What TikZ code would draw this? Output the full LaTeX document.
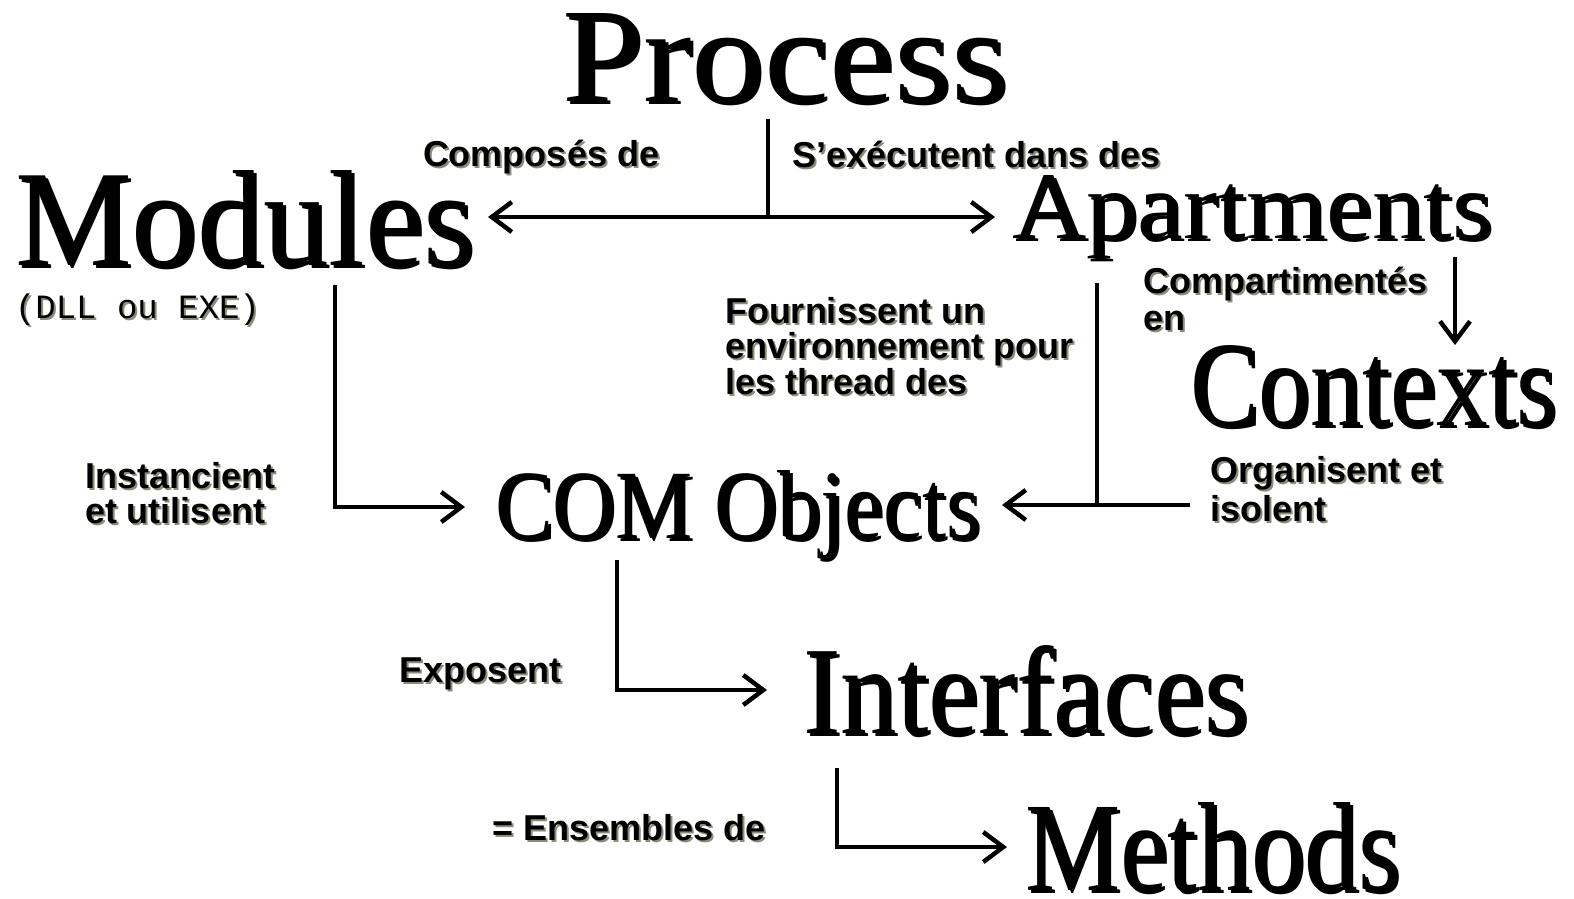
\documentclass[tikz,border=0pt]{standalone}
\usepackage{graphicx}
\usepackage{fontspec}
\setmainfont{Liberation Serif}
\setsansfont{Liberation Sans}
\setmonofont{Liberation Mono}
\usetikzlibrary{arrows.meta}
\definecolor{shadowgray}{RGB}{140,140,120}
\newsavebox\wordbox
\newcommand\bigword[3]{\sbox\wordbox{\resizebox{#1}{#2}{#3}}\makebox[0pt][l]{\hspace{3pt}\raisebox{-3pt}{\color{shadowgray}\usebox\wordbox}}\usebox\wordbox}
\newcommand\sh[1]{\makebox[0pt][l]{\hspace{2pt}\raisebox{-2pt}{\color{shadowgray}#1}}#1}
\newcommand\fst{\rule{0pt}{26pt}}
\tikzset{
  word/.style={inner sep=0pt, outer sep=0pt, anchor=base west, font=\fontsize{100}{100}\selectfont},
  lbl/.style={inner sep=0pt, outer sep=0pt, anchor=north west, align=left, font=\fontsize{36}{35}\selectfont\sffamily\bfseries},
  mono/.style={inner sep=0pt, outer sep=0pt, anchor=base west, font=\fontsize{34}{34}\selectfont\ttfamily},
  line/.style={line width=4.5pt, black},
  conn/.style={line width=4.5pt, black, -{Straight Barb[length=20pt,width=30pt]}},
}
\begin{document}
\begin{tikzpicture}[x=1pt,y=-1pt]
\useasboundingbox (0,0) rectangle (1574,899);
% big words
\node[word] (process)    at (562,101)  {\bigword{446pt}{88pt}{Process}};
\node[word] (modules)    at (15,265)   {\bigword{460pt}{95pt}{Modules}};
\node[word] (apartments) at (1012,238) {\bigword{480pt}{63pt}{Apartments}};
\node[word] (contexts)   at (1190,425) {\bigword{367pt}{80pt}{Contexts}};
\node[word] (com)        at (495,538)  {\bigword{485pt}{68pt}{COM Objects}};
\node[word] (interfaces) at (803,733)  {\bigword{445pt}{88pt}{Interfaces}};
\node[word] (methods)    at (1025,890) {\bigword{375pt}{88pt}{Methods}};
% labels
\node[lbl] (compose) at (423,140) {\fst\sh{Composés de}};
\node[lbl] (sexec)   at (792,141) {\fst\sh{S'exécutent dans des}};
\node[mono] (dll)    at (15,318)  {\sh{(DLL ou EXE)}};
\node[lbl] (compart) at (1143,267) {\fst\sh{Compartimentés}\\[2pt]\sh{en}};
\node[lbl] (fourn)   at (725,297) {\fst\sh{Fournissent un}\\\sh{environnement pour}\\\sh{les thread des}};
\node[lbl] (inst)    at (85,462)  {\fst\sh{Instancient}\\\sh{et utilisent}};
\node[lbl] (organ)   at (1210,456) {\fst\sh{Organisent et}\\[3pt]\sh{isolent}};
\node[lbl] (expo)    at (399,656) {\fst\sh{Exposent}};
\node[lbl] (ens)     at (492,814) {\fst\sh{= Ensembles de}};
% connectors
\coordinate (pj) at (768,217);
\draw[line] ([yshift=-18pt]process.base -| pj) -- (pj);
\draw[conn] (pj) -- ([xshift=13pt]modules.east |- pj);
\draw[conn] (pj) -- ([xshift=-17pt]apartments.west |- pj);
\coordinate (mc) at (335,507);
\draw[conn] ([yshift=-20pt]modules.base -| mc) -- (mc) -- ([xshift=-30pt]com.west |- mc);
\coordinate (ac) at (1097,505);
\draw[line] ([yshift=-45pt]apartments.base -| ac) -- (ac);
\draw[conn] (contexts.west |- ac) -- ([xshift=22pt]com.east |- ac);
\path ([shift={(-37pt,-19pt)}]apartments.base east) coordinate (ap1);
\draw[conn] (ap1) -- (ap1 |- contexts.north);
\coordinate (oi) at (617,690);
\draw[conn] ([yshift=-22pt]com.base -| oi) -- (oi) -- ([xshift=-36pt]interfaces.west |- oi);
\coordinate (im) at (837,847);
\draw[conn] ([yshift=-35pt]interfaces.base -| im) -- (im) -- ([xshift=-18pt]methods.west |- im);
\end{tikzpicture}
\end{document}
